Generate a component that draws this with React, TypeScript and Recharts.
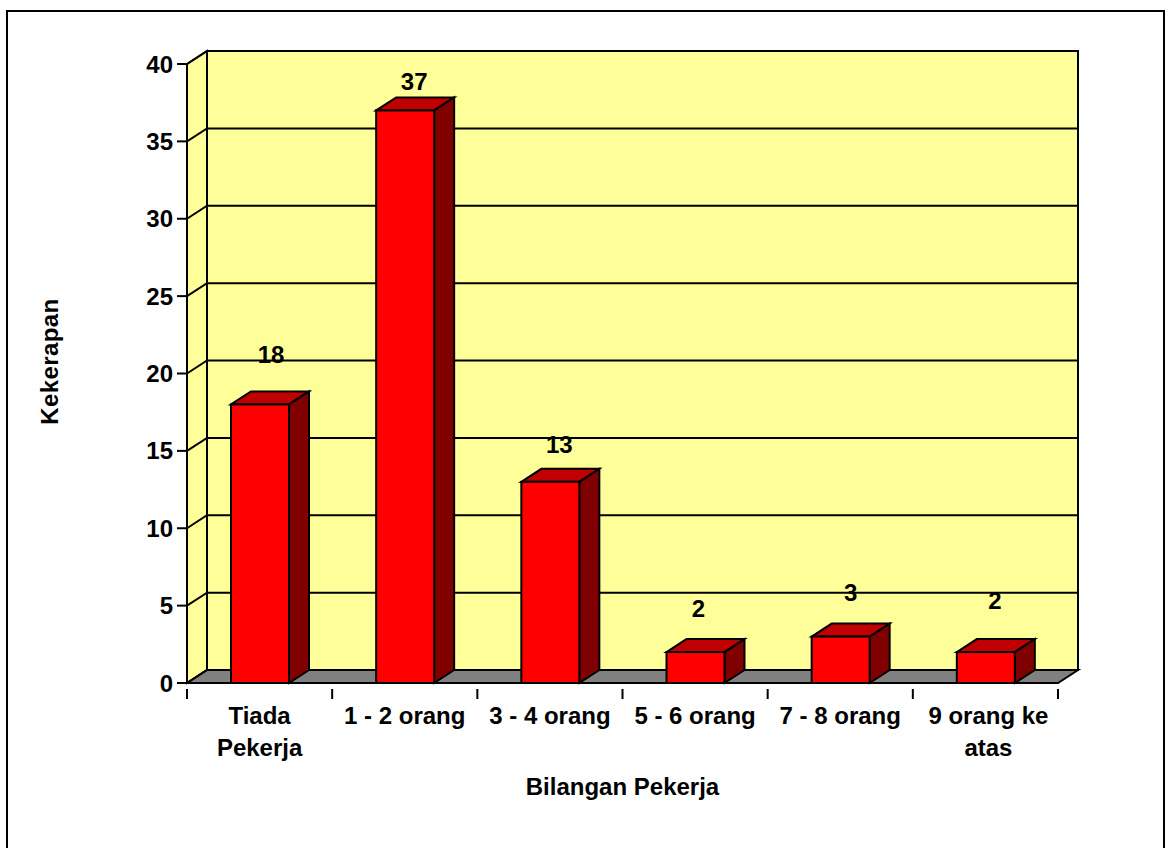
import { BarChart, Bar, XAxis, YAxis, CartesianGrid, ReferenceArea, LabelList, Text } from 'recharts';

const categories = ['Tiada Pekerja', '1 - 2 orang', '3 - 4 orang', '5 - 6 orang', '7 - 8 orang', '9 orang ke atas'];
const frequencies = [18, 37, 13, 2, 3, 2];
const yTicks = [0, 5, 10, 15, 20, 25, 30, 35, 40];

const chartData = categories.map((name, i) => ({ name, value: frequencies[i] }));

// value labels were hand-placed in the original, so each one has its own nudge
const labelNudgeX = [11, 9, 9, 3, 10, 9];
const labelLift = [50, 29, 38, 44, 45, 52];

const WIDTH = 1165;
const HEIGHT = 848;
const MARGIN = { top: 64, right: 107, bottom: 0, left: 40 };
const Y_AXIS_WIDTH = 147;
const BAND = (WIDTH - MARGIN.left - Y_AXIS_WIDTH - MARGIN.right) / categories.length;

// fake 3D depth
const DX = 20;
const DY = 13;

const FONT = '"Liberation Sans", Arial, sans-serif';
const WALL = '#FFFF99';
const FLOOR = '#808080';

const textStyle = { fontFamily: FONT, fontSize: 24, fontWeight: 700, fill: '#000' };

function Walls({ x, y, width, height }: any) {
  const bottom = y + height;
  return (
    <g stroke="#000" strokeWidth={2} strokeLinejoin="miter">
      <path d={`M${x},${y} L${x + DX},${y - DY} V${bottom - DY} L${x},${bottom} Z`} fill={WALL} />
      <rect x={x + DX} y={y - DY} width={width} height={height} fill={WALL} />
      <path d={`M${x},${bottom} L${x + DX},${bottom - DY} H${x + width + DX} L${x + width},${bottom} Z`} fill={FLOOR} />
    </g>
  );
}

function GridLine({ x1, x2, y1 }: any) {
  return (
    <path
      d={`M${x1},${y1} L${x1 + DX},${y1 - DY} H${x2 + DX}`}
      fill="none"
      stroke="#000"
      strokeWidth={2}
    />
  );
}

function Bar3D({ x, y, width, height }: any) {
  const bottom = y + height;
  const right = x + width;
  return (
    <g stroke="#000" strokeWidth={2} strokeLinejoin="miter">
      <path d={`M${x},${y} L${x + DX},${y - DY} H${right + DX} L${right},${y} Z`} fill="#C00000" />
      <path d={`M${right},${y} L${right + DX},${y - DY} V${bottom - DY} L${right},${bottom} Z`} fill="#800000" />
      <rect x={x} y={y} width={width} height={height} fill="#FF0000" />
    </g>
  );
}

function CategoryTick({ x, y, payload, index }: any) {
  const left = x - BAND / 2;
  const isLast = index === categories.length - 1;
  return (
    <g>
      <line x1={left} x2={left} y1={y - 8} y2={y + 2} stroke="#000" strokeWidth={2} />
      {isLast && (
        <line x1={left + BAND} x2={left + BAND} y1={y - 8} y2={y + 2} stroke="#000" strokeWidth={2} />
      )}
      <Text
        x={isLast ? x + 3 : x}
        y={y + 10}
        width={100}
        textAnchor="middle"
        verticalAnchor="start"
        lineHeight={32}
        style={textStyle}
      >
        {payload.value}
      </Text>
    </g>
  );
}

function ValueLabel({ x, y, width, index, value }: any) {
  return (
    <text
      x={x + width / 2 + labelNudgeX[index]}
      y={y - labelLift[index] + 9}
      textAnchor="middle"
      style={textStyle}
    >
      {value}
    </text>
  );
}

export default function App() {
  return (
    <div style={{ position: 'absolute', left: 0, top: 0, width: WIDTH, height: HEIGHT, background: '#fff' }}>
      <div
        style={{
          position: 'absolute',
          left: 6,
          top: 10,
          right: 0,
          bottom: 0,
          borderTop: '2px solid #000',
          borderLeft: '2px solid #000',
          borderRight: '2px solid #000',
        }}
      />
      <BarChart
        width={WIDTH}
        height={HEIGHT}
        data={chartData}
        margin={MARGIN}
        barSize={58}
        style={{ position: 'absolute', left: 0, top: 0 }}
      >
        <ReferenceArea y1={0} y2={40} shape={Walls} ifOverflow="visible" zIndex={-200} />
        <CartesianGrid
          vertical={false}
          horizontal={GridLine}
          horizontalValues={yTicks}
        />
        <XAxis
          dataKey="name"
          interval={0}
          height={165}
          axisLine={{ stroke: '#000', strokeWidth: 2 }}
          tickLine={false}
          tick={CategoryTick}
          tickMargin={8}
          label={{
            value: 'Bilangan Pekerja',
            position: 'insideBottom',
            offset: 53,
            style: textStyle,
          }}
        />
        <YAxis
          type="number"
          domain={[0, 40]}
          ticks={yTicks}
          width={Y_AXIS_WIDTH}
          interval={0}
          axisLine={{ stroke: '#000', strokeWidth: 2 }}
          tickLine={{ stroke: '#000', strokeWidth: 2 }}
          tickSize={10}
          tickMargin={4}
          tick={textStyle}
          label={{
            value: 'Kekerapan',
            angle: -90,
            position: 'insideLeft',
            offset: 9,
            dy: -12,
            style: { ...textStyle, letterSpacing: 0.4, textAnchor: 'middle' },
          }}
        />
        <Bar dataKey="value" isAnimationActive={false} shape={Bar3D}>
          <LabelList dataKey="value" content={ValueLabel} />
        </Bar>
      </BarChart>
    </div>
  );
}
